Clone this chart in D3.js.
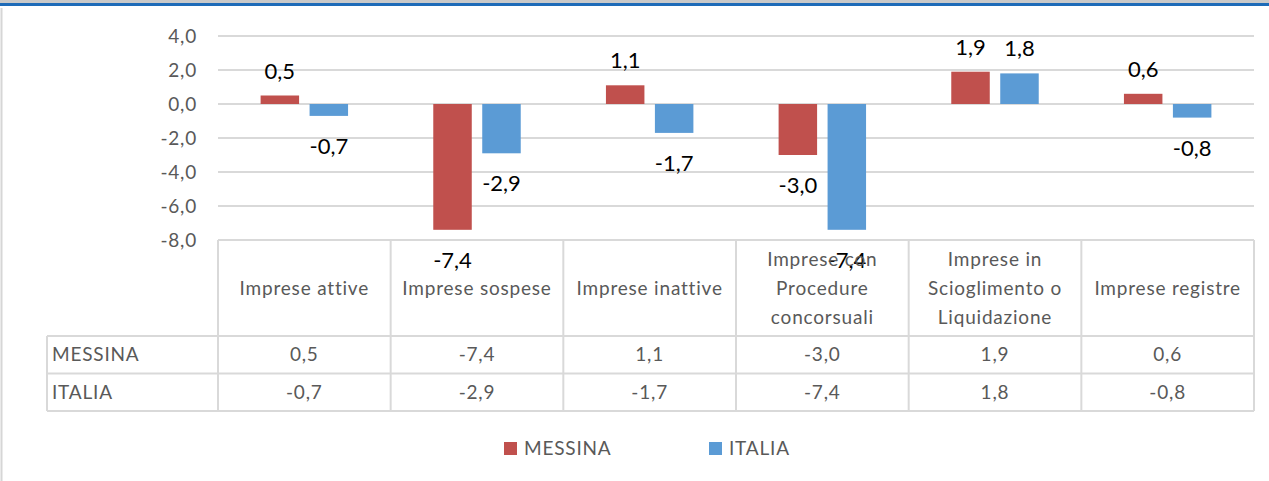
<!DOCTYPE html>
<html>
<head>
<meta charset="utf-8">
<script src="https://cdn.jsdelivr.net/npm/d3@7"></script>
<style>
  body { margin: 0; background: #fff; }
  svg text { font-family: Lato, "Open Sans", sans-serif; }
  .gray { letter-spacing: 0.8px; }
</style>
</head>
<body>
<div id="chart"></div>
<script>
var width = 1269, height = 481;

// data
var categories = [
  ["Imprese attive"],
  ["Imprese sospese"],
  ["Imprese inattive"],
  ["Imprese con", "Procedure", "concorsuali"],
  ["Imprese in", "Scioglimento o", "Liquidazione"],
  ["Imprese registre"]
];
var seriesNames = ["MESSINA", "ITALIA"];
var messina = [0.5, -7.4, 1.1, -3.0, 1.9, 0.6];
var italia = [-0.7, -2.9, -1.7, -7.4, 1.8, -0.8];
var yTicks = [4, 2, 0, -2, -4, -6, -8];

var colors = { "MESSINA": "#c0504d", "ITALIA": "#5b9bd5" };
var values = { "MESSINA": messina, "ITALIA": italia };

var fmt = function(v) { return d3.format(".1f")(v).replace(".", ",").replace("−", "-"); };

var svg = d3.select("#chart").append("svg")
  .attr("width", width)
  .attr("height", height);

// frame bits of the original screenshot
svg.append("rect").attr("x", 0).attr("y", 0).attr("width", width).attr("height", 3).attr("fill", "#c9c9c9");
svg.append("rect").attr("x", 0).attr("y", 3).attr("width", width).attr("height", 3).attr("fill", "#1e6bb8");
svg.append("line").attr("x1", 1.5).attr("x2", 1.5).attr("y1", 8).attr("y2", height)
  .attr("stroke", "#d6d6d6").attr("stroke-width", 2);

var plotL = 218, plotR = 1254, plotT = 36, plotB = 240;

var x0 = d3.scaleBand()
  .domain(d3.range(categories.length))
  .range([plotL, plotR]);

var x1 = d3.scaleBand()
  .domain(seriesNames)
  .range([0, x0.bandwidth()])
  .paddingInner(0.214)
  .paddingOuter(0.87);

var y = d3.scaleLinear()
  .domain([-8, 4])
  .range([plotB, plotT]);

var gridColor = "#d9d9d9";

// gridlines
svg.append("g").selectAll("line")
  .data(yTicks)
  .join("line")
  .attr("x1", plotL).attr("x2", plotR)
  .attr("y1", function(d) { return y(d); })
  .attr("y2", function(d) { return y(d); })
  .attr("stroke", gridColor)
  .attr("stroke-width", 2);

// y tick labels
svg.append("g").selectAll("text")
  .data(yTicks)
  .join("text")
  .attr("class", "gray")
  .attr("x", 197)
  .attr("y", function(d) { return y(d); })
  .attr("dy", "0.35em")
  .attr("text-anchor", "end")
  .attr("fill", "#595959")
  .style("font-size", "19px")
  .text(fmt);

// bars
var groups = svg.append("g").selectAll("g")
  .data(categories)
  .join("g")
  .attr("transform", function(d, i) { return "translate(" + x0(i) + ",0)"; });

groups.selectAll("rect")
  .data(function(d, i) { return seriesNames.map(function(s) { return { s: s, v: values[s][i] }; }); })
  .join("rect")
  .attr("x", function(d) { return x1(d.s); })
  .attr("width", x1.bandwidth())
  .attr("y", function(d) { return y(Math.max(0, d.v)); })
  .attr("height", function(d) { return Math.abs(y(d.v) - y(0)); })
  .attr("fill", function(d) { return colors[d.s]; });

// data labels
groups.selectAll("text.lbl")
  .data(function(d, i) { return seriesNames.map(function(s) { return { s: s, v: values[s][i] }; }); })
  .join("text")
  .attr("class", "lbl")
  .attr("x", function(d) { return x1(d.s) + x1.bandwidth() / 2; })
  .attr("y", function(d) { return d.v >= 0 ? y(d.v) - 17 : y(d.v) + 38; })
  .attr("text-anchor", "middle")
  .attr("fill", "#000")
  .style("font-size", "22px")
  .text(function(d) { return fmt(d.v); });

// data table
var headTop = plotB, rowTop = 336, rowH = 37.5, tableLeft = 47;
var tbl = svg.append("g");
var lineStyle = function(sel) { return sel.attr("stroke", gridColor).attr("stroke-width", 2); };

// vertical lines
d3.range(categories.length + 1).forEach(function(i) {
  var xx = i < categories.length ? x0(i) : plotR;
  tbl.append("line").attr("x1", xx).attr("x2", xx)
    .attr("y1", headTop).attr("y2", rowTop + 2 * rowH).call(lineStyle);
});
tbl.append("line").attr("x1", tableLeft).attr("x2", tableLeft)
  .attr("y1", rowTop).attr("y2", rowTop + 2 * rowH).call(lineStyle);
// horizontal lines
[0, 1, 2].forEach(function(k) {
  tbl.append("line").attr("x1", tableLeft).attr("x2", plotR)
    .attr("y1", rowTop + k * rowH).attr("y2", rowTop + k * rowH).call(lineStyle);
});

// category headers
var headMid = (headTop + rowTop) / 2, lineH = 29;
tbl.selectAll("text.cat")
  .data(categories)
  .join("text")
  .attr("class", "cat gray")
  .attr("text-anchor", "middle")
  .attr("fill", "#595959")
  .style("font-size", "19px")
  .each(function(d, i) {
    var t = d3.select(this);
    d.forEach(function(line, j) {
      t.append("tspan")
        .attr("x", x0(i) + x0.bandwidth() / 2)
        .attr("y", headMid + (j - (d.length - 1) / 2) * lineH)
        .attr("dy", "0.35em")
        .text(line);
    });
  });

// rows
seriesNames.forEach(function(s, r) {
  var cy = rowTop + r * rowH + rowH / 2;
  tbl.append("text")
    .attr("class", "gray")
    .attr("x", tableLeft + 5).attr("y", cy).attr("dy", "0.35em")
    .attr("fill", "#595959").style("font-size", "19px")
    .text(s);
  tbl.selectAll("text.v" + r)
    .data(values[s])
    .join("text")
    .attr("class", "gray v" + r)
    .attr("x", function(d, i) { return x0(i) + x0.bandwidth() / 2; })
    .attr("y", cy).attr("dy", "0.35em")
    .attr("text-anchor", "middle")
    .attr("fill", "#595959").style("font-size", "19px")
    .text(fmt);
});

// legend
var legendX = [504, 709];
var legend = svg.append("g").selectAll("g")
  .data(seriesNames)
  .join("g")
  .attr("transform", function(d, i) { return "translate(" + legendX[i] + ",442)"; });
legend.append("rect").attr("width", 13).attr("height", 13)
  .attr("fill", function(d) { return colors[d]; });
legend.append("text").attr("class", "gray")
  .attr("x", 20).attr("y", 6.5).attr("dy", "0.35em")
  .attr("fill", "#595959").style("font-size", "19px")
  .text(function(d) { return d; });
</script>
</body>
</html>
